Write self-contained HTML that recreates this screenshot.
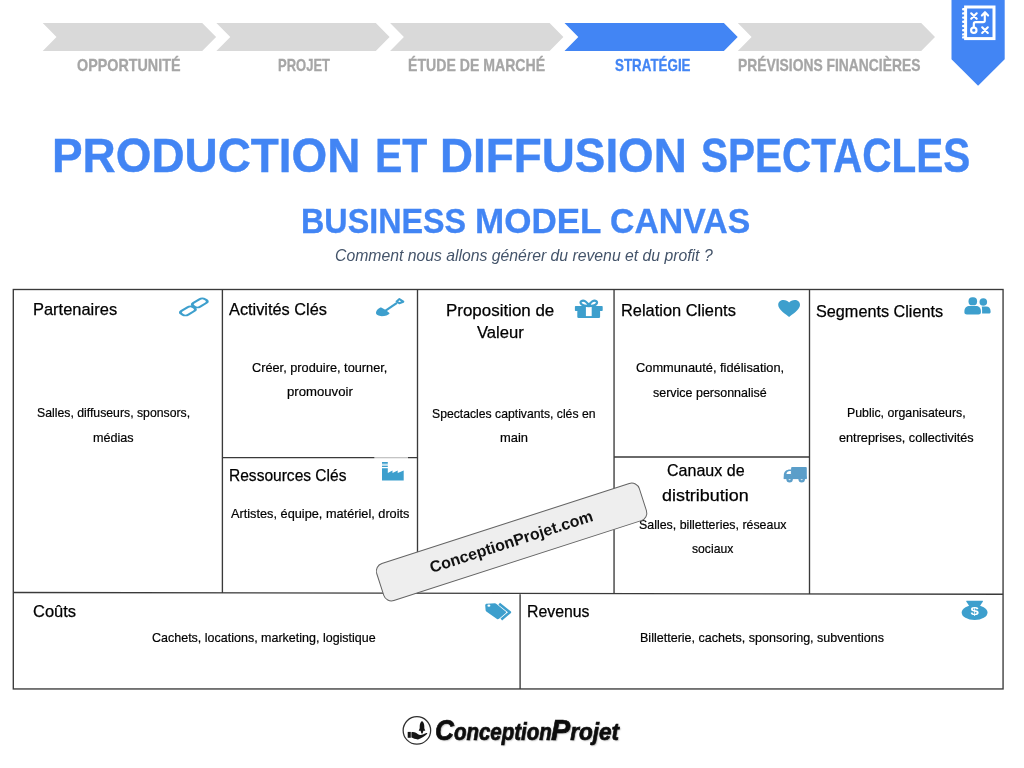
<!DOCTYPE html>
<html lang="fr">
<head>
<meta charset="utf-8">
<title>Production et diffusion spectacles – Business Model Canvas</title>
<style>
html,body{margin:0;padding:0;background:#fff}
body{width:1024px;height:768px;position:relative;overflow:hidden;font-family:"Liberation Sans",sans-serif;color:#000}
.page{position:absolute;left:0;top:0;width:1024px;height:768px;will-change:transform}
.layer{position:absolute;left:0;top:0;width:1024px;height:768px;display:block}
h1,h2,h3,p{margin:0;padding:0;font:inherit}
.t{position:absolute;white-space:nowrap;line-height:1.2;transform-origin:0 0;margin:0;padding:0}
.nav{font-weight:bold;font-size:15.7px;color:#a6a6a6;-webkit-text-stroke:.3px #a6a6a6}
.nav.on{color:#4285f4;-webkit-text-stroke-color:#4285f4}
.title{font-weight:bold;font-size:48.6px;color:#4285f4;-webkit-text-stroke:.4px #4285f4}
.sub{font-weight:bold;font-size:35.6px;color:#4285f4;-webkit-text-stroke:.3px #4285f4}
.it{font-style:italic;font-size:15.75px;color:#44546a}
.h{font-size:16.2px;-webkit-text-stroke:.25px #000}
.s{font-size:12.6px;-webkit-text-stroke:.2px #000}
.stamp{position:absolute;left:373.05px;top:522.3px;width:277.3px;height:39.6px;box-sizing:border-box;border:1.1px solid #646464;border-radius:8.5px;background:#eee;transform:rotate(-17.9deg);text-align:center;font-weight:bold;font-size:16px;line-height:37.4px;padding-right:.8px;color:#111}
.cap{font-size:1.28em}
.logo{font-weight:bold;font-style:italic;font-size:23.5px;color:#0d0d0d;-webkit-text-stroke:.7px #0d0d0d;text-shadow:1.2px 1.4px 1.5px rgba(0,0,0,.28)}
</style>
</head>
<body>
<div class="page">
<svg class="layer" width="1024" height="768" viewBox="0 0 1024 768">
<!-- navigation chevrons -->
<g fill="#d9d9d9">
<polygon points="42.7,23 202.2,23 216.1,37 202.2,51 42.7,51 56.5,37"/>
<polygon points="216.4,23 375.8,23 389.6,37 375.8,51 216.4,51 230.3,37"/>
<polygon points="390.1,23 549.6,23 563.4,37 549.6,51 390.1,51 403.9,37"/>
<polygon fill="#4285f4" points="564.5,23 723.9,23 737.7,37 723.9,51 564.5,51 578.3,37"/>
<polygon points="737.8,23 921.2,23 935,37 921.2,51 737.8,51 751.6,37"/>
</g>
<!-- ribbon -->
<polygon fill="#4285f4" points="951.5,0 1004.7,0 1004.7,59.2 978.1,85.8 951.5,59.2"/>
<!-- strategy icon -->
<g fill="none" stroke="#fff" stroke-width="2.150" stroke-linecap="round" stroke-linejoin="round">
<rect x="965.6" y="7" width="28.4" height="31.6" stroke-width="3" stroke-linejoin="miter"/>
<path d="M963.200 9.200h1.500M963.200 13.400h1.500M963.200 17.600h1.500M963.200 21.800h1.500M963.200 26h1.500M963.200 30.200h1.500M963.200 34.400h1.500M963.200 37.400h1.500" stroke-width="2.400"/>
<path d="M971.2 13.300l5.500 5.500M976.700 13.300l-5.500 5.500"/>
<path d="M982.200 27.300l5.600 5.600M987.800 27.300l-5.600 5.600"/>
<circle cx="973.8" cy="30.200" r="2.700"/>
<path d="M973.800 27.500v-3.600q0-1.700 1.700-1.700h7.600q1.700 0 1.700-1.700v-7.400M981.900 15.500l3.100-3.300 3.100 3.300"/>
</g>
<!-- canvas grid -->
<g fill="none" stroke="#3a3a3a" stroke-width="1.35">
<rect x="13.3" y="289.5" width="989.76" height="399.45"/>
<path d="M222.400 289.500V592.900M417.500 289.500V593.200M614.050 289.500V593.550M809.500 289.500V593.900"/>
<path d="M13.300 592.500L1003.060 594.250M520.100 593.400V688.950"/>
<path d="M222.400 457.650H417.500M614.050 456.950H809.500"/>
</g>
<rect x="374.300" y="456.500" width="33.700" height="2.400" fill="#fff" fill-opacity=".7"/>
<!-- cell icons -->
<g fill="#3d9fcd" stroke="none">
<!-- link -->
<g fill="none" stroke="#3d9fcd" stroke-width="2.900">
<rect x="-8.100" y="-4.600" width="16.200" height="9.200" rx="3.600" transform="translate(199.800 302.950) scale(1 .6) rotate(-45)"/>
<rect x="-8.100" y="-4.600" width="16.200" height="9.200" rx="3.600" transform="translate(187.900 310.950) scale(1 .6) rotate(-45)"/>
</g>
<!-- shovel -->
<path d="M376 312.300C376.500 309.800 379.500 307.300 381.200 307.500L385.800 310.100L389.700 313.200C388.500 315.300 384.500 316.300 380.500 316.100C377.500 315.800 375.600 314.300 376 312.300Z"/>
<path d="M385.600 310.700L397 302.800" fill="none" stroke="#3d9fcd" stroke-width="2.200"/>
<path d="M396.600 301.400L399.400 299.100L403.300 301.700L399.300 303.300Z" fill="none" stroke="#3d9fcd" stroke-width="2" stroke-linejoin="round"/>
<!-- gift -->
<rect x="574.900" y="306" width="27.800" height="5" rx=".8"/>
<rect x="577.300" y="310.500" width="22.800" height="7.500" rx="1.200"/>
<rect x="585.900" y="306" width="5.800" height="10.100" fill="#fff"/>
<path d="M588.800 306.200C587.500 301.500 583.500 299.800 581.300 301.200C579.300 302.700 581 305.900 588.800 306.200ZM588.800 306.200C590.100 301.500 594.100 299.800 596.300 301.200C598.300 302.700 596.600 305.900 588.800 306.200Z" fill="none" stroke="#3d9fcd" stroke-width="2.200" stroke-linejoin="round"/>
<!-- heart -->
<path d="M789.100 316.900C786.500 314.600 778.200 309.600 778.200 304.900C778.200 301.900 780.700 300 783.400 300C785.900 300 787.900 301.200 789.100 302.600C790.300 301.200 792.300 300 794.800 300C797.500 300 800 301.900 800 304.900C800 309.600 791.700 314.600 789.100 316.900Z"/>
<!-- users -->
<rect x="968.500" y="297.300" width="8.600" height="8" rx="3.900"/>
<path d="M964.400 311.500C964.400 307.800 966.800 306.100 969.500 306.100H976C978.700 306.100 980.900 307.800 980.900 311.500V312.500C980.900 313.800 979.800 314.500 978.500 314.500H966.800C965.500 314.500 964.400 313.800 964.400 312.500Z"/>
<circle cx="983.300" cy="302" r="3.800"/>
<path d="M981.800 306.500H986.300C988.900 306.500 990.600 308.300 990.600 311.200V311.900C990.600 313 989.800 313.600 988.700 313.600H982.100V310.500C982.100 309 982 307.600 981.800 306.500Z"/>
<!-- factory -->
<path d="M382 462.100H387.800V463.800H382ZM382 465.800H387.800V467.100H382ZM382 468.200H387.800V473.100L392.500 470.400V473.100L397.700 470.400V473.100L403.700 470.400V480.600H382Z"/>
<rect x="382" y="464.300" width="5.800" height="1" fill-opacity=".45"/>
<!-- tags -->
<path d="M485.200 605.200C485.200 604.300 485.900 603.700 486.800 603.700L494.800 603.300C495.500 603.300 496 603.500 496.500 603.900L505.700 611.400C506.300 611.900 506.300 612.600 505.800 613.100L499 618.800C498.400 619.300 497.600 619.300 497 618.900L486.300 611.500C485.800 611.100 485.600 610.700 485.600 610.100Z"/>
<ellipse cx="488.900" cy="605.700" rx="1.500" ry="1.100" fill="#fff"/>
<path d="M499.200 603.700L509.900 612.300L501.300 619.500" fill="none" stroke="#3d9fcd" stroke-width="2.500" stroke-linejoin="round"/>
<!-- money bag -->
<ellipse cx="974.600" cy="612.500" rx="12.900" ry="7.500"/>
<path d="M966.900 600.700H982.300C982.900 600.700 983.100 601.300 982.800 601.800L979.600 606.500H969.600L966.400 601.800C966.100 601.300 966.300 600.700 966.900 600.700Z"/>
</g>
<text x="0" y="615.300" transform="translate(974.700 0) scale(1.380 1)" text-anchor="middle" font-family="'Liberation Sans',sans-serif" font-weight="bold" font-size="10.800" fill="#fff">$</text>
<!-- truck -->
<g fill="#5b9ec9">
<rect x="791.100" y="467" width="15.700" height="11.400" rx="1"/>
<path d="M783.800 478.900V475C783.800 471.500 786.500 469.400 790 469.400H791.600V478.900Z"/>
<rect x="783.800" y="476.500" width="23" height="2.600"/>
<circle cx="789.600" cy="479.300" r="3.200"/>
<circle cx="801.700" cy="479.300" r="3.200"/>
</g>
<path d="M786.400 474.100C786.600 472.300 788 471.100 789.800 471.100H790.900V474.100Z" fill="#fff"/>
<ellipse cx="789.600" cy="479.600" rx="1.100" ry=".7" fill="#fff" fill-opacity=".75"/>
<ellipse cx="801.700" cy="479.600" rx="1.100" ry=".7" fill="#fff" fill-opacity=".75"/>
</svg>
<nav>
<div class="t nav" style="left:77.47px;top:57.2px;transform:scaleX(0.9132)">OPPORTUNITÉ</div>
<div class="t nav" style="left:277.56px;top:57.2px;transform:scaleX(0.8285)">PROJET</div>
<div class="t nav" style="left:408.2px;top:57.2px;transform:scaleX(0.8987)">ÉTUDE DE MARCHÉ</div>
<div class="t nav on" style="left:615.17px;top:57.2px;transform:scaleX(0.8523)">STRATÉGIE</div>
<div class="t nav" style="left:738.01px;top:57.2px;transform:scaleX(0.8828)">PRÉVISIONS FINANCIÈRES</div>
</nav>
<header>
<h1><span class="t title" style="left:52.12px;top:125.9px;transform:scaleX(0.9439)">PRODUCTION</span> <span class="t title" style="left:374.75px;top:125.9px;transform:scaleX(0.8428)">ET</span> <span class="t title" style="left:440.22px;top:125.9px;transform:scaleX(0.9425)">DIFFUSION</span> <span class="t title" style="left:700.58px;top:125.9px;transform:scaleX(0.8332)">SPECTACLES</span></h1>
<h2><span class="t sub" style="left:300.71px;top:200.2px;transform:scaleX(0.9078)">BUSINESS</span> <span class="t sub" style="left:474.72px;top:200.2px;transform:scaleX(0.9843)">MODEL</span> <span class="t sub" style="left:610.27px;top:200.2px;transform:scaleX(0.9502)">CANVAS</span></h2>
<p class="t it" style="left:334.8px;top:247.3px;transform:scaleX(1.0008)">Comment nous allons générer du revenu et du profit ?</p>
</header>
<main>
<section>
<h3><span class="t h" style="left:33.28px;top:299.8px;transform:scaleX(1.016)">Partenaires</span></h3>
<p><span class="t s" style="left:37.15px;top:406.3px;transform:scaleX(0.9734)">Salles, diffuseurs, sponsors,</span> <span class="t s" style="left:93.22px;top:430.7px;transform:scaleX(1.0014)">médias</span></p>
</section>
<section>
<h3><span class="t h" style="left:229.45px;top:300.2px;transform:scaleX(1.0075)">Activités Clés</span></h3>
<p><span class="t s" style="left:252.4px;top:361px;transform:scaleX(1.012)">Créer, produire, tourner,</span> <span class="t s" style="left:287.21px;top:385.1px;transform:scaleX(1.0442)">promouvoir</span></p>
</section>
<section>
<h3><span class="t h" style="left:229.16px;top:465.5px;transform:scaleX(0.9599)">Ressources Clés</span></h3>
<p><span class="t s" style="left:230.91px;top:507.1px;transform:scaleX(1.0117)">Artistes, équipe, matériel, droits</span></p>
</section>
<section>
<h3><span class="t h" style="left:445.84px;top:301.1px;transform:scaleX(1.0462)">Proposition de</span> <span class="t h" style="left:476.71px;top:322.6px;transform:scaleX(1.0272)">Valeur</span></h3>
<p><span class="t s" style="left:431.55px;top:406.8px;transform:scaleX(0.969)">Spectacles captivants, clés en</span> <span class="t s" style="left:499.59px;top:431.4px;transform:scaleX(1.027)">main</span></p>
</section>
<section>
<h3><span class="t h" style="left:621.29px;top:301.0px;transform:scaleX(1.0133)">Relation Clients</span></h3>
<p><span class="t s" style="left:636.2px;top:361px;transform:scaleX(1.0176)">Communauté, fidélisation,</span> <span class="t s" style="left:653.13px;top:385.5px;transform:scaleX(0.9904)">service personnalisé</span></p>
</section>
<section>
<h3><span class="t h" style="left:667.13px;top:460.7px;transform:scaleX(0.9911)">Canaux de</span> <span class="t h" style="left:662.49px;top:486px;transform:scaleX(1.1061)">distribution</span></h3>
<p><span class="t s" style="left:638.94px;top:517.7px;transform:scaleX(0.9846)">Salles, billetteries, réseaux</span> <span class="t s" style="left:692.24px;top:542px;transform:scaleX(0.9667)">sociaux</span></p>
</section>
<section>
<h3><span class="t h" style="left:815.64px;top:301.9px;transform:scaleX(1.0021)">Segments Clients</span></h3>
<p><span class="t s" style="left:847.43px;top:405.9px;transform:scaleX(0.9797)">Public, organisateurs,</span> <span class="t s" style="left:839.48px;top:430.6px;transform:scaleX(1.0071)">entreprises, collectivités</span></p>
</section>
<section>
<h3><span class="t h" style="left:33.01px;top:601.5px;transform:scaleX(1.0187)">Coûts</span></h3>
<p><span class="t s" style="left:151.62px;top:631.1px;transform:scaleX(0.9925)">Cachets, locations, marketing, logistique</span></p>
</section>
<section>
<h3><span class="t h" style="left:527.43px;top:601.5px;transform:scaleX(0.9789)">Revenus</span></h3>
<p><span class="t s" style="left:640.12px;top:630.7px;transform:scaleX(0.996)">Billetterie, cachets, sponsoring, subventions</span></p>
</section>
</main>
<div class="stamp">ConceptionProjet.com</div>
<footer>
<svg class="layer" width="1024" height="768" viewBox="0 0 1024 768">
<circle cx="416.900" cy="730.450" r="13.750" fill="#fff" stroke="#2f2f2f" stroke-width="1.250"/>
<g fill="#161616">
<rect x="407.700" y="731.900" width="3.100" height="5.900"/>
<path d="M411.400 732.200C413 732 414.600 732.100 415.900 732.700C417.500 733.500 418.600 734.900 420.300 735C422.500 735 424.600 733.400 426.500 732.900C427.300 732.800 427.500 733.600 427 734.100C424.500 736.300 421 738.800 418 739.400C415.500 739.500 413.300 738.300 411.400 737.600Z"/>
<path d="M422 721.100C423.600 722.300 424.300 724.300 424.300 726.200V728.300L425.300 730.700H423.400L422.600 733.500H421.400L420.600 730.700H418.700L419.700 728.300V726.200C419.700 724.300 420.400 722.300 422 721.100Z"/>
</g>
</svg>
<div class="brand"><span class="t logo" style="left:434.9px;top:712.4px;transform:scaleX(0.8706)"><span class="cap">C</span>onception</span><span class="t logo" style="left:550.78px;top:712.4px;transform:scaleX(0.9572)"><span class="cap">P</span>rojet</span></div>
</footer>
</div>
</body>
</html>
